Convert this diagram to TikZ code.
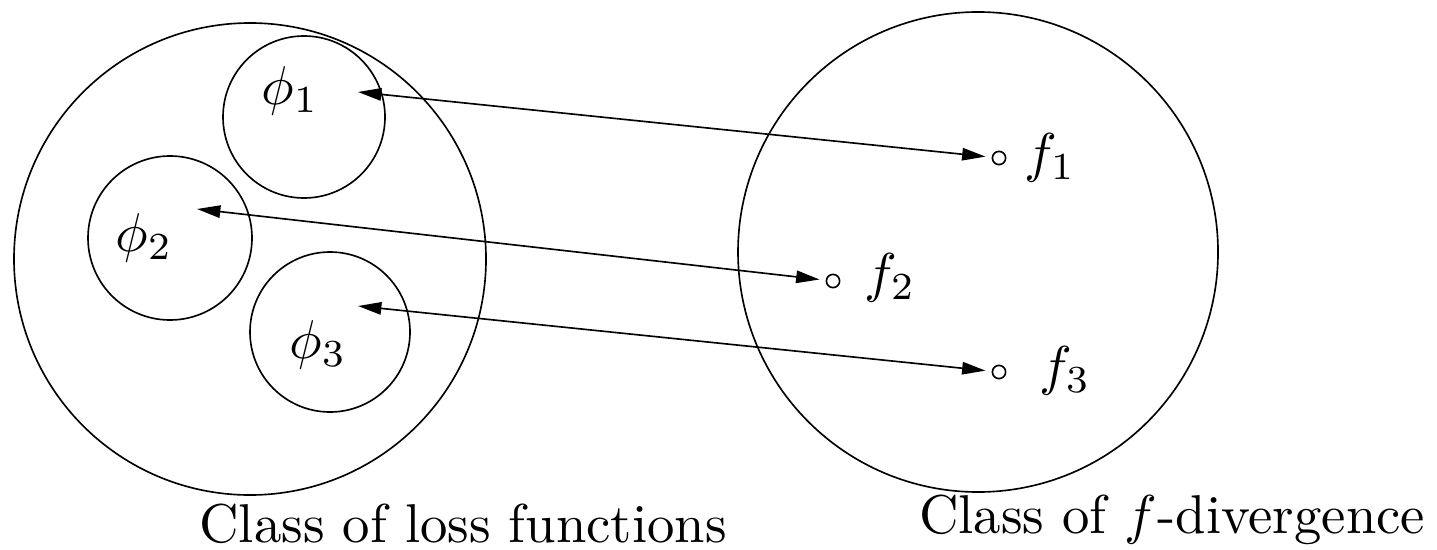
\documentclass[tikz,border=0pt]{standalone}
\usetikzlibrary{arrows.meta}

\begin{document}
\begin{tikzpicture}[x=0.06425mm, y=-0.06425mm, line width=0.3pt,
  dot/.style={circle, draw, inner sep=0pt, minimum size=0.85mm, outer sep=0.45mm},
  link/.style={{Triangle[length=1.5mm, width=0.8mm]}-{Triangle[length=1.5mm, width=0.8mm]}}]

\useasboundingbox (0,0) rectangle (1437,549);

% Classe des pertes
\draw (250,259) circle (236);
\draw (304,117) circle (81);
\draw (170,238) circle (82);
\draw (330,332) circle (80);

\node (phi1) at (290,91) {$\phi_1$};
\node (phi2) at (144,238) {$\phi_2$};
\node (phi3) at (318,345) {$\phi_3$};

\coordinate (a1) at (358,92);
\coordinate (a2) at (197,209);
\coordinate (a3) at (358,306);

% Classe des f-divergences
\draw (978,252) circle (240);

\node[dot] (d1) at (999,158) {};
\node[dot] (d2) at (833,281) {};
\node[dot] (d3) at (999,372) {};

\node (f1) at (1050,158) {$f_1$};
\node (f2) at (890,278) {$f_2$};
\node (f3) at (1065,371) {$f_3$};

% Correspondances
\draw[link] (a1) -- (d1);
\draw[link] (a2) -- (d2);
\draw[link] (a3) -- (d3);

\node[anchor=base] (loss) at (463,542) {Class of loss functions};
\node[anchor=base] (div) at (1172,533) {Class of $f$-divergence};

\end{tikzpicture}
\end{document}
